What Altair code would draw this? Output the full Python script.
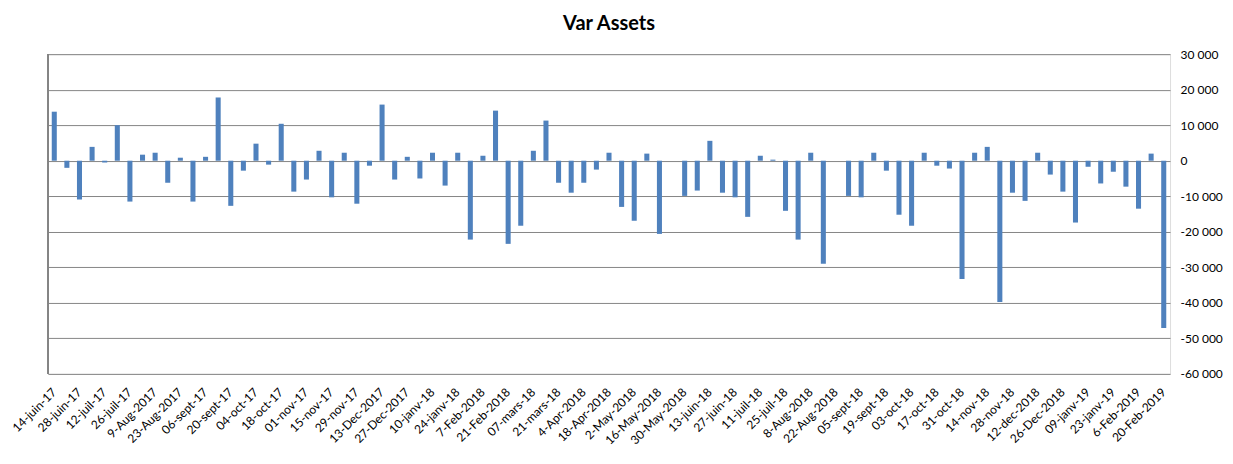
import json
import altair as alt
import pandas as pd

# Weekly observation dates (categories)
weeks = [d.strftime("%Y-%m-%d") for d in pd.date_range("2017-06-14", periods=89, freq="7D")]

# Weekly variation of assets
values = [
    13800, -2000, -10900, 3900, -500, 10000, -11500, 1700, 2250, -6200,
    850, -11500, 1100, 17800, -12700, -2800, 4800, -1100, 10400, -8700,
    -5300, 2800, -10300, 2250, -12100, -1400, 15800, -5300, 1100, -5000,
    2250, -7000, 2250, -22200, 1400, 14100, -23400, -18300, 2800, 11300,
    -6200, -9000, -6200, -2500, 2250, -13000, -16900, 2000, -20600, 0,
    -9900, -8400, 5600, -9000, -10300, -15800, 1400, 300, -14100, -22200,
    2250, -29000, 0, -9900, -10300, 2250, -2800, -15200, -18300, 2250,
    -1400, -2200, -33300, 2250, 3900, -39800, -9000, -11300, 2250, -3900,
    -8700, -17400, -1700, -6400, -3100, -7300, -13500, 2000, -47100,
]

# Tick labels shown every other week
tick_labels = [
    "14-juin-17", "28-juin-17", "12-juil-17", "26-juil-17", "9-Aug-2017",
    "23-Aug-2017", "06-sept-17", "20-sept-17", "04-oct-17", "18-oct-17",
    "01-nov-17", "15-nov-17", "29-nov-17", "13-Dec-2017", "27-Dec-2017",
    "10-janv-18", "24-janv-18", "7-Feb-2018", "21-Feb-2018", "07-mars-18",
    "21-mars-18", "4-Apr-2018", "18-Apr-2018", "2-May-2018", "16-May-2018",
    "30-May-2018", "13-juin-18", "27-juin-18", "11-juil-18", "25-juil-18",
    "8-Aug-2018", "22-Aug-2018", "05-sept-18", "19-sept-18", "03-oct-18",
    "17-oct-18", "31-oct-18", "14-nov-18", "28-nov-18", "12-dec-2018",
    "26-Dec-2018", "09-janv-19", "23-janv-19", "6-Feb-2019", "20-Feb-2019",
]

y_ticks = [30000, 20000, 10000, 0, -10000, -20000, -30000, -40000, -50000, -60000]

tick_weeks = weeks[::2]
df = pd.DataFrame({"week": weeks, "value": values})

label_expr = f"{json.dumps(tick_labels)}[indexof({json.dumps(tick_weeks)}, datum.value)]"

FONT = "Lato"
W, H = 1123, 320

bars = alt.Chart(df).mark_bar(color="#4F81BD").encode(
    x=alt.X(
        "week:O",
        sort=None,
        scale=alt.Scale(paddingInner=0.6, paddingOuter=0.3),
        axis=alt.Axis(
            title=None,
            values=tick_weeks,
            labelExpr=label_expr,
            labelAngle=-45,
            labelAlign="right",
            labelBaseline="middle",
            labelPadding=16,
            labelFont=FONT,
            labelFontSize=12,
            labelColor="#000000",
            ticks=False,
            domain=False,
            grid=False,
            labelOverlap=False,
        ),
    ),
    y=alt.Y(
        "value:Q",
        scale=alt.Scale(domain=[-60000, 30000], nice=False),
        axis=alt.Axis(
            title=None,
            orient="right",
            values=y_ticks,
            labelExpr="replace(replace(format(datum.value, ','), ',', ' '), '\u2212', '-')",
            labelFont=FONT,
            labelFontSize=12,
            labelColor="#000000",
            labelPadding=10,
            ticks=False,
            domain=False,
            grid=True,
            gridColor="#868686",
            gridWidth=1,
        ),
    ),
)

left_line = alt.Chart(df).mark_rule(color="#868686", strokeWidth=1).encode(
    x=alt.value(0), y=alt.value(0), y2=alt.value(H)
)

chart = (
    alt.layer(bars, left_line)
    .properties(
        width=W,
        height=H,
        title=alt.TitleParams(
            "Var Assets", font=FONT, fontSize=20, fontWeight="bold",
            color="#000000", anchor="middle", offset=14,
        ),
        padding={"left": 2, "right": 2, "top": 6, "bottom": 2},
    )
    .configure_view(stroke=None)
    .configure(background="white")
)

chart.save("out.html", embed_options={"renderer": "svg", "actions": False})
